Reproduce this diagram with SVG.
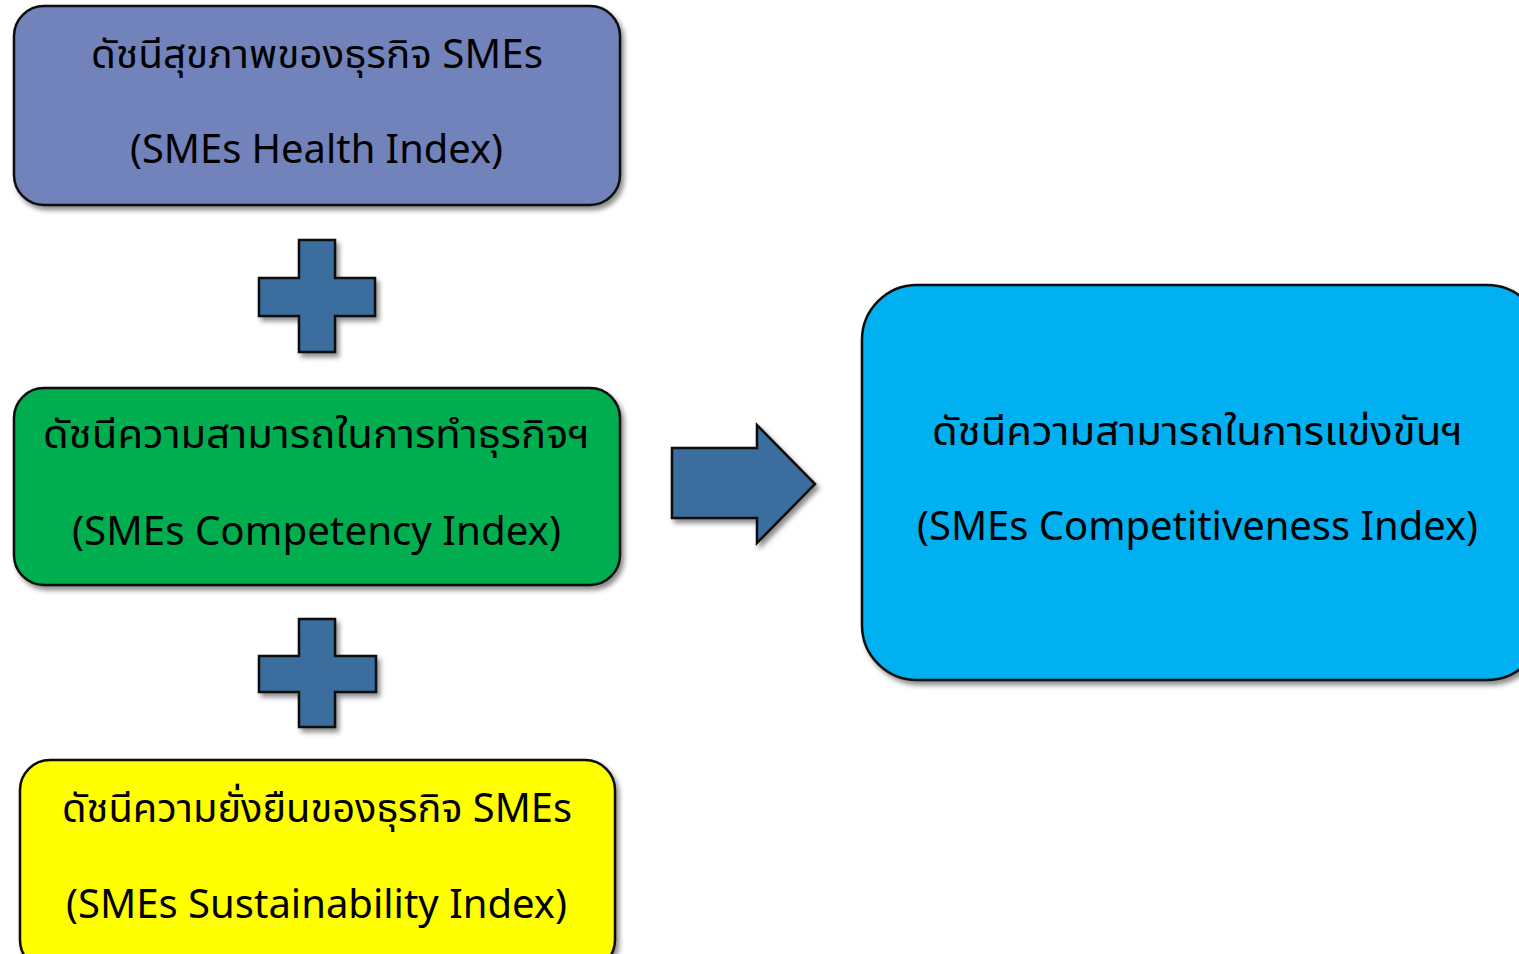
<svg xmlns="http://www.w3.org/2000/svg" width="1519" height="954" viewBox="0 0 1519 954">
<defs>
<filter id="sh" x="-10%" y="-10%" width="120%" height="130%">
<feDropShadow dx="3" dy="4" stdDeviation="2.5" flood-color="#000" flood-opacity="0.45"/>
</filter>
<style>
.box{stroke:#111;stroke-width:2.5;filter:url(#sh)}
.sym{fill:#3A6E9E;stroke:#111;stroke-width:2.5;stroke-linejoin:miter;filter:url(#sh)}
.t{font-family:"Noto Sans","Noto Sans Thai","DejaVu Sans",sans-serif;font-size:40px;fill:#000;text-anchor:middle}
</style>
</defs>
<rect width="1519" height="954" fill="#fff"/>
<g id="health">
<rect class="box" x="14" y="6" width="606" height="199" rx="30" fill="#7282BA"/>
<text class="t" x="317" y="68" textLength="452" lengthAdjust="spacingAndGlyphs">ดัชนีสุขภาพของธุรกิจ SMEs</text>
<text class="t" x="316.5" y="163" textLength="373" lengthAdjust="spacingAndGlyphs">(SMEs Health Index)</text>
</g>
<g id="plus1">
<path class="sym" d="M299,240 H335 V278 H375 V316 H335 V352 H299 V316 H259 V278 H299 Z"/>
</g>
<g id="competency">
<rect class="box" x="14" y="388" width="606" height="197" rx="30" fill="#00AE4F"/>
<text class="t" x="316.5" y="448" textLength="547" lengthAdjust="spacingAndGlyphs">ดัชนีความสามารถในการทำธุรกิจฯ</text>
<text class="t" x="316.5" y="545" textLength="489" lengthAdjust="spacingAndGlyphs">(SMEs Competency Index)</text>
</g>
<g id="plus2">
<path class="sym" d="M299,619 H335 V656 H376 V692 H335 V727 H299 V692 H259 V656 H299 Z"/>
</g>
<g id="sustainability">
<rect class="box" x="20" y="760" width="595" height="210" rx="30" fill="#FFFF00"/>
<text class="t" x="317" y="822" textLength="510" lengthAdjust="spacingAndGlyphs">ดัชนีความยั่งยืนของธุรกิจ SMEs</text>
<text class="t" x="316.5" y="918" textLength="501" lengthAdjust="spacingAndGlyphs">(SMEs Sustainability Index)</text>
</g>
<g id="connectors">
<path class="sym" d="M672,448 H757 V425 L815,484 L757,543 V518 H672 Z"/>
</g>
<g id="competitiveness">
<rect class="box" x="862" y="285" width="680" height="395" rx="55" fill="#00B0F0"/>
<text class="t" x="1197.5" y="445" textLength="531" lengthAdjust="spacingAndGlyphs">ดัชนีความสามารถในการแข่งขันฯ</text>
<text class="t" x="1197.5" y="540" textLength="561" lengthAdjust="spacingAndGlyphs">(SMEs Competitiveness Index)</text>
</g>
</svg>
